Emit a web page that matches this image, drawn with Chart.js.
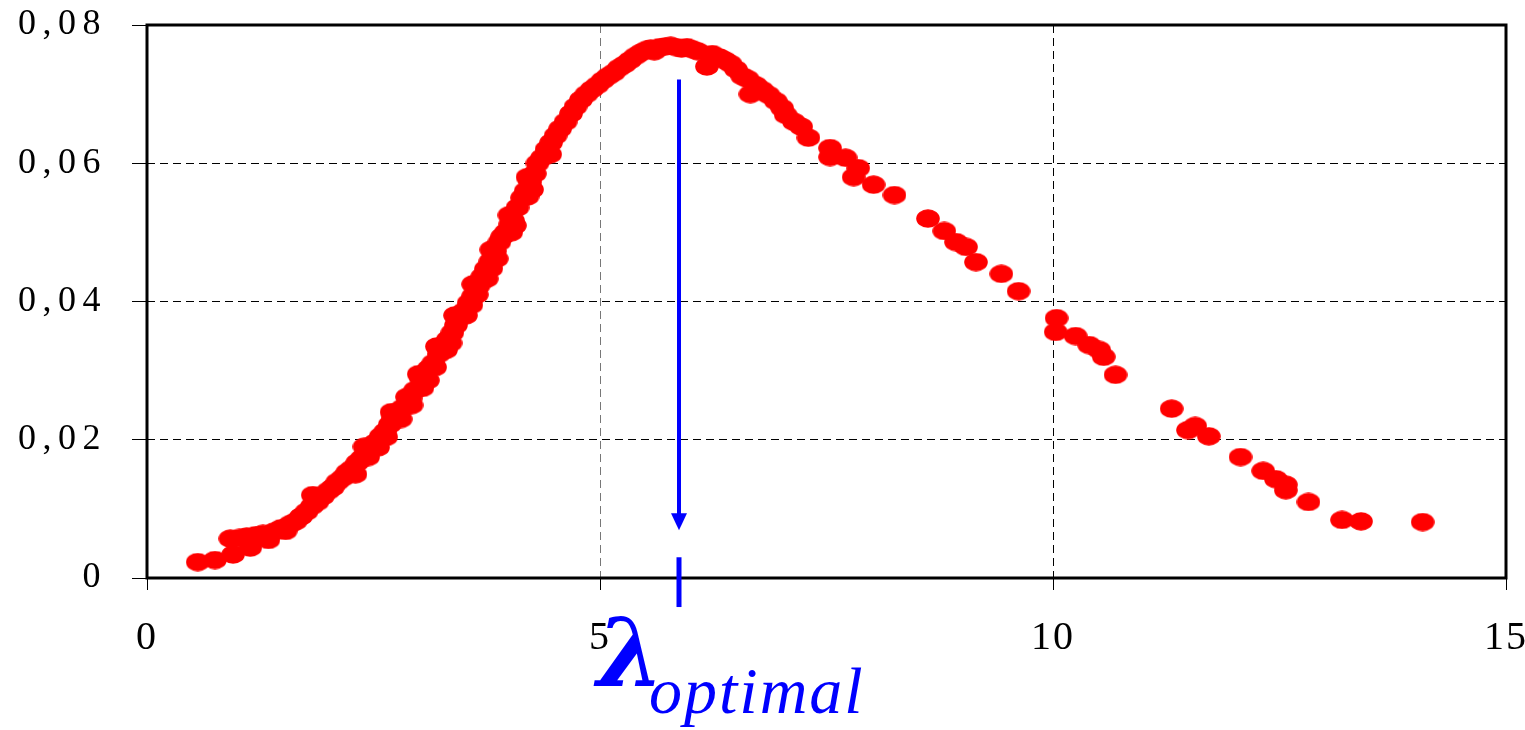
<!DOCTYPE html>
<html>
<head>
<meta charset="utf-8">
<script src="https://cdn.jsdelivr.net/npm/chart.js@4"></script>
<style>
  html, body { margin: 0; padding: 0; background: #fff; }
  #c { display: block; }
</style>
</head>
<body>
<canvas id="c" width="1525" height="730"></canvas>
<script>
// ---- data ----
const xValues = [
  0.56, 0.75, 0.95, 0.92, 1.02, 1.10, 1.14, 1.20, 1.28, 1.34,
  1.40, 1.48, 1.53, 1.58, 1.64, 1.70, 1.76, 1.82, 1.83, 1.88,
  1.94, 2.00, 2.05, 2.10, 2.16, 2.21, 2.26, 2.32, 2.37, 2.42,
  2.48, 2.52, 2.58, 2.63, 2.68, 2.72, 2.77, 2.82, 2.87, 2.91,
  2.96, 3.02, 3.06, 3.11, 3.16, 3.22, 3.27, 3.32, 3.37, 3.41,
  3.46, 3.50, 3.55, 3.60, 3.66, 3.70, 3.74, 3.79, 3.84, 3.89,
  3.92, 3.96, 4.01, 4.04, 4.09, 4.14, 4.18, 4.23, 4.28, 4.31,
  4.36, 4.41, 4.46, 4.51, 4.56, 4.62, 4.68, 4.73, 4.79, 4.85,
  4.91, 4.97, 5.03, 5.09, 5.15, 5.21, 5.27, 5.33, 5.39, 5.45,
  5.51, 5.56, 5.60, 5.66, 5.72, 5.78, 5.84, 5.90, 5.96, 6.02,
  6.08, 6.18, 6.24, 6.32, 6.38, 6.44, 6.50, 6.57, 6.66, 6.63,
  6.72, 6.79, 6.86, 6.94, 7.01, 7.05, 7.14, 7.22, 7.30,
  7.54, 7.54, 7.71, 7.85, 7.80, 8.02, 8.25, 8.62, 8.80, 8.93,
  9.04, 9.15, 9.43, 9.62, 10.04, 10.03, 10.25, 10.40, 10.51, 10.56,
  10.69, 11.31, 11.49, 11.57, 11.72, 12.07, 12.32, 12.46, 12.57, 12.57,
  12.82, 13.19, 13.40, 14.08,
  // points on the edges of the thick rising band
  3.52, 3.64, 3.75, 3.86, 3.30, 3.18, 3.04, 2.92, 2.64, 2.44, 4.06, 4.20,
  2.40, 2.70, 3.00, 3.20, 3.40, 3.60, 3.80, 4.00, 4.20,
  2.30, 2.55, 2.80, 3.10, 3.35, 3.58, 3.80, 4.02, 4.25, 4.45
];
const yValues = [
  0.0023, 0.0026, 0.0034, 0.0057, 0.0058, 0.0060, 0.0044, 0.0062, 0.0064, 0.0055,
  0.0067, 0.0072, 0.0068, 0.0078, 0.0082, 0.0089, 0.0096, 0.0104, 0.0120, 0.0110,
  0.0118, 0.0126, 0.0131, 0.0139, 0.0145, 0.0153, 0.0158, 0.0167, 0.0173, 0.0181,
  0.0189, 0.0196, 0.0205, 0.0212, 0.0222, 0.0232, 0.0238, 0.0246, 0.0262, 0.0260,
  0.0272, 0.0290, 0.0290, 0.0303, 0.0311, 0.0324, 0.0336, 0.0345, 0.0355, 0.0366,
  0.0378, 0.0386, 0.0398, 0.0408, 0.0423, 0.0436, 0.0447, 0.0458, 0.0473, 0.0486,
  0.0494, 0.0500, 0.0512, 0.0517, 0.0536, 0.0550, 0.0560, 0.0573, 0.0585, 0.0600,
  0.0608, 0.0620, 0.0630, 0.0640, 0.0650, 0.0660, 0.0672, 0.0682, 0.0692, 0.0700,
  0.0707, 0.0713, 0.0720, 0.0726, 0.0731, 0.0738, 0.0743, 0.0749, 0.0755, 0.0760,
  0.0764, 0.0766, 0.0762, 0.0768, 0.0769, 0.0770, 0.0768, 0.0766, 0.0768, 0.0765,
  0.0762, 0.0740, 0.0758, 0.0753, 0.0749, 0.0744, 0.0736, 0.0726, 0.0700, 0.0722,
  0.0713, 0.0706, 0.0699, 0.0690, 0.0680, 0.0670, 0.0660, 0.0653, 0.0637,
  0.0622, 0.0609, 0.0608, 0.0593, 0.0580, 0.0569, 0.0554, 0.0520, 0.0502, 0.0486,
  0.0479, 0.0457, 0.0440, 0.0415, 0.0376, 0.0356, 0.0350, 0.0337, 0.0330, 0.0320,
  0.0294, 0.0245, 0.0214, 0.0220, 0.0205, 0.0175, 0.0155, 0.0143, 0.0135, 0.0127,
  0.0110, 0.0084, 0.0082, 0.0081,
  0.0380, 0.0410, 0.0433, 0.0462, 0.0330, 0.0305, 0.0275, 0.0250, 0.0204, 0.0175, 0.0510, 0.0552,
  0.0190, 0.0240, 0.0295, 0.0335, 0.0380, 0.0425, 0.0475, 0.0525, 0.0580,
  0.0150, 0.0189, 0.0230, 0.0286, 0.0340, 0.0395, 0.0448, 0.0500, 0.0562, 0.0613
];
const xTickValues = [0, 5, 10, 15];
const xTickLabels = ['0', '5', '10', '15'];
const yTickValues = [0, 0.02, 0.04, 0.06, 0.08];
const yTickLabels = ['0', '0,02', '0,04', '0,06', '0,08'];
const lambdaOptimal = 5.87;
const annotationLabel = 'λ';
const annotationSub = 'optimal';
// arrow extents (data units on the y axis)
const arrowTop = 0.0721;
const arrowTip = 0.0069;
const markTop = 0.0030;
const markBottom = -0.0042;

// ---- ellipse marker ----
const marker = document.createElement('canvas');
marker.width = 24; marker.height = 19;
(function () {
  const m = marker.getContext('2d');
  m.fillStyle = '#ff0000';
  m.beginPath();
  m.ellipse(12, 9.5, 11.8, 9.3, 0, 0, Math.PI * 2);
  m.fill();
})();

const points = xValues.map((x, i) => ({ x: x, y: yValues[i] }));

const spacingPlugin = {
  id: 'spacing',
  afterLayout(chart) {
    const wrap = (scale, sp) => {
      if (!scale || scale._spWrapped) return;
      const orig = scale.drawLabels;
      scale.drawLabels = function (area) {
        const c = this.ctx;
        const prev = c.letterSpacing;
        c.letterSpacing = sp;
        orig.call(this, area);
        c.letterSpacing = prev || '0px';
      };
      scale._spWrapped = true;
    };
    wrap(chart.scales.y, '6.5px');
    wrap(chart.scales.x, '2px');
  }
};

const decorPlugin = {
  id: 'decor',
  afterDraw(chart) {
    const { ctx, chartArea: a, scales } = chart;
    const xs = scales.x, ys = scales.y;
    ctx.save();
    ctx.letterSpacing = '0px';
    // frame
    ctx.strokeStyle = '#000';
    ctx.lineWidth = 3;
    ctx.strokeRect(a.left, a.top, a.right - a.left, a.bottom - a.top);
    // arrow
    const px = Math.round(xs.getPixelForValue(lambdaOptimal));
    const yTop = ys.getPixelForValue(arrowTop);
    const yTip = ys.getPixelForValue(arrowTip);
    ctx.strokeStyle = '#0000ff';
    ctx.fillStyle = '#0000ff';
    ctx.lineWidth = 4;
    ctx.beginPath();
    ctx.moveTo(px, yTop);
    ctx.lineTo(px, yTip - 14);
    ctx.stroke();
    ctx.beginPath();
    ctx.moveTo(px - 8, yTip - 17);
    ctx.lineTo(px + 8, yTip - 17);
    ctx.lineTo(px, yTip);
    ctx.closePath();
    ctx.fill();
    // mark at axis
    ctx.lineWidth = 5;
    ctx.beginPath();
    ctx.moveTo(px, ys.getPixelForValue(markTop));
    ctx.lineTo(px, ys.getPixelForValue(markBottom));
    ctx.stroke();
    // label
    ctx.textBaseline = 'alphabetic';
    ctx.textAlign = 'left';
    ctx.font = 'italic bold 96px "DejaVu Serif", serif';
    ctx.fillText(annotationLabel, px - 82, 686);
    ctx.font = 'italic 66px "Liberation Serif", "Times New Roman", serif';
    ctx.letterSpacing = '2px';
    ctx.fillText(annotationSub, px - 30, 713);
    ctx.restore();
  }
};

new Chart(document.getElementById('c'), {
  type: 'scatter',
  data: {
    datasets: [{
      data: points,
      pointStyle: marker,
      pointRadius: 11,
      pointHoverRadius: 11,
      backgroundColor: '#ff0000',
      borderColor: '#ff0000'
    }]
  },
  options: {
    responsive: false,
    animation: false,
    devicePixelRatio: 1,
    layout: { padding: { top: 25, right: 19, left: 0, bottom: 0 } },
    plugins: { legend: { display: false }, tooltip: { enabled: false } },
    scales: {
      x: {
        type: 'linear',
        min: 0, max: 15,
        afterBuildTicks(s) { s.ticks = xTickValues.map(v => ({ value: v })); },
        afterFit(s) { s.height = 152; s.paddingLeft = 0; s.paddingRight = 0; },
        ticks: {
          font: { family: '"Liberation Serif", "Times New Roman", serif', size: 40 },
          color: '#000', padding: 24, maxRotation: 0, autoSkip: false,
          callback: (v, i) => xTickLabels[i]
        },
        border: { display: false, dash: [8, 5] },
        grid: {
          color: ctx => (ctx.tick && ctx.tick.value === 5) ? '#777' : '#000',
          lineWidth: 1,
          tickLength: 12,
          tickColor: '#000',
          tickBorderDash: []
        }
      },
      y: {
        type: 'linear',
        min: 0, max: 0.08,
        afterBuildTicks(s) { s.ticks = yTickValues.map(v => ({ value: v })); },
        afterFit(s) { s.width = 147; s.paddingTop = 0; s.paddingBottom = 0; },
        ticks: {
          font: { family: '"Liberation Serif", "Times New Roman", serif', size: 36 },
          color: '#000', padding: 25, autoSkip: false,
          callback: (v, i) => yTickLabels[i]
        },
        border: { display: false, dash: [8, 5] },
        grid: {
          color: '#000',
          lineWidth: 1,
          tickLength: 15,
          tickColor: '#000',
          tickBorderDash: []
        }
      }
    }
  },
  plugins: [spacingPlugin, decorPlugin]
});
</script>
</body>
</html>
